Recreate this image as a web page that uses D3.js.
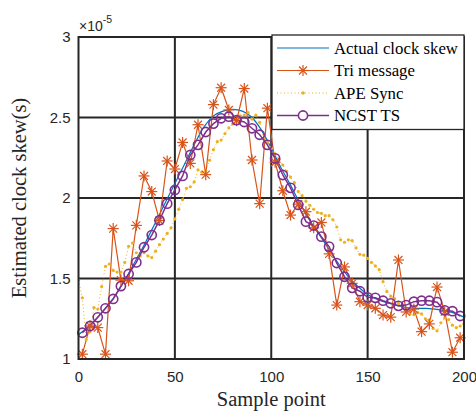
<!DOCTYPE html>
<html><head><meta charset="utf-8">
<script src="https://cdn.jsdelivr.net/npm/d3@7/dist/d3.min.js"></script>
<style>html,body{margin:0;padding:0;background:#fff;}svg{display:block;}</style>
</head><body><svg id="c" width="476" height="414"></svg>
<script>
// values in units of 1e-5 s
const xTicks = [0, 50, 100, 150, 200];
const yTicks = [1, 1.5, 2, 2.5, 3];
const yTickLabels = ["1", "1.5", "2", "2.5", "3"];
const seriesNames = ["Actual clock skew", "Tri message", "APE Sync", "NCST TS"];

const actualX = [0,5,10,15,20,25,30,35,40,45,50,55,60,65,70,75,80,85,90,95,100,105,110,115,120,125,130,135,140,145,150,155,160,165,170,175,180,185,190,195,200];
const actualY = [1.15,1.20,1.26,1.33,1.41,1.51,1.62,1.73,1.85,1.97,2.09,2.21,2.33,2.44,2.51,2.54,2.55,2.54,2.50,2.42,2.31,2.19,2.08,1.965,1.86,1.77,1.68,1.59,1.51,1.45,1.40,1.37,1.35,1.335,1.32,1.315,1.315,1.31,1.30,1.285,1.26];

const markX = [2,6,10,14,18,22,26,30,34,38,42,46,50,54,58,62,66,70,74,78,82,86,90,94,98,102,106,110,114,118,122,126,130,134,138,142,146,150,154,158,162,166,170,174,178,182,186,190,194,198];
const triY = [1.03,1.205,1.195,1.03,1.81,1.49,1.486,1.83,2.137,2.04,1.86,2.23,2.18,2.345,2.215,2.455,2.145,2.58,2.685,2.547,2.48,2.68,2.236,1.965,2.558,2.222,2.045,1.894,1.962,1.915,1.815,1.848,1.653,1.335,1.572,1.47,1.356,1.335,1.315,1.273,1.26,1.615,1.292,1.31,1.17,1.218,1.447,1.294,1.042,1.132];
const ncstY = [1.163,1.205,1.259,1.315,1.373,1.453,1.528,1.60,1.694,1.77,1.862,1.965,2.05,2.137,2.267,2.33,2.41,2.462,2.495,2.505,2.484,2.472,2.433,2.393,2.33,2.246,2.143,2.063,1.957,1.853,1.829,1.76,1.698,1.596,1.511,1.442,1.421,1.383,1.38,1.362,1.346,1.33,1.335,1.356,1.362,1.362,1.353,1.302,1.297,1.267];

const apeX = d3.range(0, 201, 2);
const apeY = [1.49,1.38,1.12,1.17,1.32,1.31,1.45,1.575,1.59,1.55,1.54,1.54,1.60,1.70,1.72,1.66,1.64,1.66,1.64,1.63,1.67,1.71,1.745,1.78,1.815,1.87,1.93,1.99,2.06,2.07,2.10,2.175,2.16,2.17,2.235,2.30,2.35,2.36,2.40,2.435,2.46,2.49,2.51,2.515,2.53,2.49,2.515,2.47,2.37,2.345,2.31,2.275,2.24,2.205,2.165,2.13,2.095,2.04,2.015,1.98,1.955,1.93,1.91,1.905,1.89,1.89,1.865,1.82,1.74,1.725,1.74,1.735,1.69,1.65,1.645,1.625,1.60,1.578,1.555,1.48,1.42,1.39,1.375,1.345,1.325,1.305,1.28,1.275,1.288,1.28,1.25,1.24,1.19,1.175,1.225,1.255,1.245,1.21,1.195,1.205,1.22];

const colors = {actual:"#0072BD", tri:"#D95319", ape:"#EDB120", ncst:"#7E2F8E"};

const svg = d3.select("#c");
const L = 78.5, R = 464, T = 37, B = 359;
const x = d3.scaleLinear().domain([0,200]).range([L,R]);
const y = d3.scaleLinear().domain([1,3]).range([B,T]);

const sans = "'Liberation Sans', Arial, sans-serif";
const serif = "'Liberation Serif', 'Times New Roman', serif";

// grid
const g = svg.append("g");
g.selectAll(".gx").data(xTicks.slice(1,-1)).enter().append("line")
  .attr("x1", d=>x(d)).attr("x2", d=>x(d)).attr("y1", T).attr("y2", B)
  .attr("stroke", "#262626").attr("stroke-width", 2);
g.selectAll(".gy").data(yTicks.slice(1,-1)).enter().append("line")
  .attr("y1", d=>y(d)).attr("y2", d=>y(d)).attr("x1", L).attr("x2", R)
  .attr("stroke", "#262626").attr("stroke-width", 2);

// axes
const xAxis = d3.axisBottom(x).tickValues(xTicks).tickSize(0).tickPadding(12).tickFormat(d3.format("d"));
const yAxis = d3.axisLeft(y).tickValues(yTicks).tickSize(0).tickPadding(8).tickFormat((d,i)=>yTickLabels[i]);
const gx = svg.append("g").attr("transform", `translate(0,${B})`).call(xAxis);
const gy = svg.append("g").attr("transform", `translate(${L},0)`).call(yAxis);
[gx, gy].forEach(a => {
  a.select(".domain").remove();
  a.selectAll("text").attr("font-family", sans).attr("font-size", 15).attr("fill", "#262626");
});

// plot clip
svg.append("clipPath").attr("id","clip").append("rect").attr("x",L).attr("y",T).attr("width",R-L).attr("height",B-T);
const p = svg.append("g").attr("clip-path","url(#clip)");

const line = (xs, ys) => d3.line().x((d,i)=>x(xs[i])).y((d,i)=>y(ys[i]))(ys);

// actual
p.append("path").attr("d", d3.line().curve(d3.curveMonotoneX).x((d,i)=>x(actualX[i])).y(d=>y(d))(actualY))
  .attr("fill","none").attr("stroke", colors.actual).attr("stroke-width", 1.2);

// tri message
p.append("path").attr("d", line(markX, triY)).attr("fill","none").attr("stroke", colors.tri).attr("stroke-width", 1.2);
function star(sel, cx, cy, r, col) {
  const a = r*0.72;
  const gg = sel.append("g").attr("stroke", col).attr("stroke-width", 1.2);
  gg.append("line").attr("x1",cx-r).attr("x2",cx+r).attr("y1",cy).attr("y2",cy);
  gg.append("line").attr("x1",cx).attr("x2",cx).attr("y1",cy-r).attr("y2",cy+r);
  gg.append("line").attr("x1",cx-a).attr("x2",cx+a).attr("y1",cy-a).attr("y2",cy+a);
  gg.append("line").attr("x1",cx-a).attr("x2",cx+a).attr("y1",cy+a).attr("y2",cy-a);
}
const triG = svg.append("g");
triY.forEach((v,i)=> star(triG, x(markX[i]), y(v), 5.5, colors.tri));

// APE sync
p.append("path").attr("d", line(apeX, apeY)).attr("fill","none").attr("stroke", colors.ape)
  .attr("stroke-width", 1).attr("stroke-dasharray","1,2.5");
p.selectAll(".ape").data(apeY).enter().append("circle")
  .attr("cx",(d,i)=>x(apeX[i])).attr("cy", d=>y(d)).attr("r",1.6).attr("fill", colors.ape);

// NCST
p.append("path").attr("d", line(markX, ncstY)).attr("fill","none").attr("stroke", colors.ncst).attr("stroke-width", 1.5);
svg.append("g").selectAll("circle").data(ncstY).enter().append("circle")
  .attr("cx",(d,i)=>x(markX[i])).attr("cy", d=>y(d)).attr("r",4.6)
  .attr("fill","none").attr("stroke", colors.ncst).attr("stroke-width", 1.6);

// box
svg.append("rect").attr("x",L).attr("y",T).attr("width",R-L).attr("height",B-T)
  .attr("fill","none").attr("stroke","#262626").attr("stroke-width",2);

// exponent label
const ex = svg.append("text").attr("x", 79).attr("y", 31).attr("font-family", sans).attr("font-size", 14).attr("fill","#262626");
ex.append("tspan").text("×10");
ex.append("tspan").attr("dy", -8).attr("font-size", 10.5).text("-5");

// axis labels
svg.append("text").attr("x", (L+R)/2).attr("y", 406).attr("text-anchor","middle")
  .attr("font-family", serif).attr("font-size", 20.5).attr("fill","#262626").text("Sample point");
svg.append("text").attr("transform", `translate(26,${(T+B)/2}) rotate(-90)`).attr("text-anchor","middle")
  .attr("font-family", serif).attr("font-size", 20.5).attr("fill","#262626").text("Estimated clock skew(s)");

// legend
const lg = svg.append("g");
lg.append("rect").attr("x",272).attr("y",35).attr("width",192).attr("height",94.5)
  .attr("fill","#fff").attr("stroke","#262626").attr("stroke-width",1.3);
const rows = [48, 70.5, 93, 115.5];
const lx1 = 277, lx2 = 329, lm = 303;
lg.append("line").attr("x1",lx1).attr("x2",lx2).attr("y1",rows[0]).attr("y2",rows[0]).attr("stroke",colors.actual).attr("stroke-width",1.2);
lg.append("line").attr("x1",lx1).attr("x2",lx2).attr("y1",rows[1]).attr("y2",rows[1]).attr("stroke",colors.tri).attr("stroke-width",1.2);
star(lg, lm, rows[1], 5.5, colors.tri);
lg.append("line").attr("x1",lx1).attr("x2",lx2).attr("y1",rows[2]).attr("y2",rows[2]).attr("stroke",colors.ape).attr("stroke-width",1).attr("stroke-dasharray","1,2.5");
lg.append("circle").attr("cx",lm).attr("cy",rows[2]).attr("r",1.8).attr("fill",colors.ape);
lg.append("line").attr("x1",lx1).attr("x2",lx2).attr("y1",rows[3]).attr("y2",rows[3]).attr("stroke",colors.ncst).attr("stroke-width",1.5);
lg.append("circle").attr("cx",lm).attr("cy",rows[3]).attr("r",4.6).attr("fill","#fff").attr("stroke",colors.ncst).attr("stroke-width",1.6);
seriesNames.forEach((n,i)=> lg.append("text").attr("x",334).attr("y",rows[i]+5.5)
  .attr("font-family", serif).attr("font-size", 16.8).attr("fill","#000").text(n));
</script></body></html>
